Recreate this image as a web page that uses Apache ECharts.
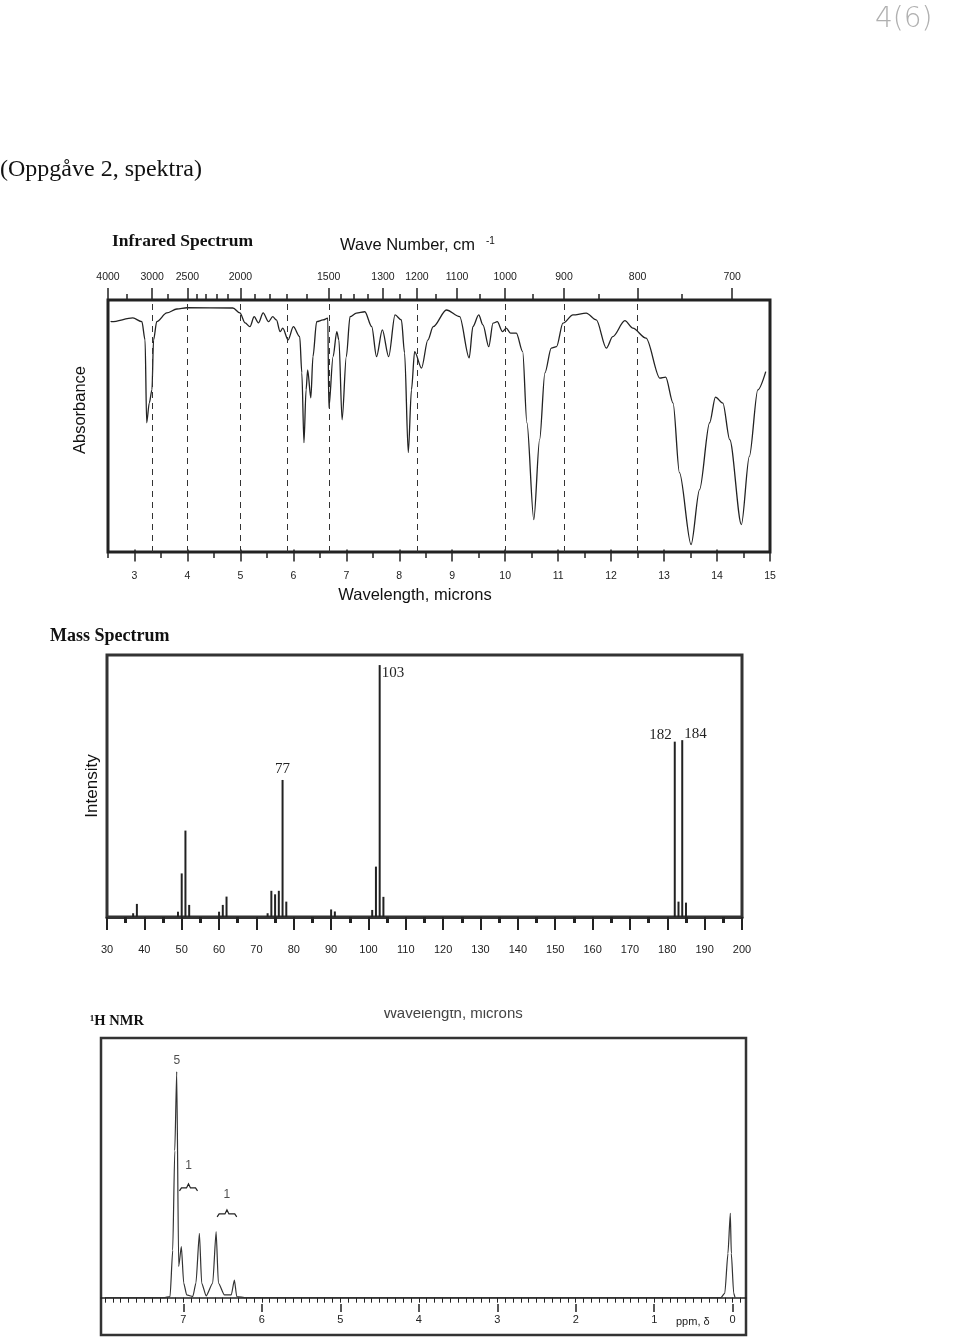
<!DOCTYPE html>
<html><head><meta charset="utf-8">
<script src="https://cdn.jsdelivr.net/npm/echarts@6/dist/echarts.min.js"></script>
<style>html,body{margin:0;padding:0;background:#fff}#c{width:960px;height:1339px}</style>
</head><body><div id="c"></div>
<script>
// ---------- IR spectrum (x: wavelength in microns, y: % transmittance-like trace) ----------
const irMicrons = [2.55,2.57,2.97,3.14,3.20,3.23,3.28,3.33,3.36,3.42,3.61,3.80,3.99,4.86,4.99,5.09,5.18,5.26,5.34,5.43,5.53,5.61,5.68,5.75,5.80,5.90,6.00,6.12,6.16,6.20,6.24,6.27,6.33,6.37,6.44,6.56,6.65,6.67,6.75,6.82,6.86,6.92,7.00,7.07,7.19,7.35,7.48,7.57,7.68,7.80,7.92,8.04,8.10,8.17,8.23,8.29,8.42,8.54,8.64,8.89,9.14,9.32,9.39,9.50,9.58,9.69,9.77,9.85,9.95,10.02,10.10,10.21,10.33,10.41,10.54,10.65,10.75,10.87,10.97,11.09,11.28,11.53,11.72,11.91,12.03,12.26,12.41,12.66,12.92,13.03,13.17,13.29,13.51,13.67,13.86,13.97,14.11,14.24,14.46,14.61,14.77,14.92];
const irTrans   = [91.5,91.3,92.8,91.3,84,50.8,58.8,64,84,91.3,94.8,96.4,96.9,96.8,94.8,90.8,89.3,93.3,90.8,94.8,91.3,93.3,92,87.3,88.7,84,89.3,85.3,70.8,42.8,64,72,60.8,77.3,91.3,92,92.7,56.8,77.3,87.3,84,52,77.3,93.3,94.7,95.3,89.3,77.3,88,77.3,94,92,78.8,38.8,64,79.3,72.7,84,89.3,96,93.3,76.8,89.3,94,90,81.3,90.7,91.3,87.3,88.7,86.7,86.7,79.3,50.8,12,44,70.8,80.7,81.3,90.7,94,94.7,92,80.7,85.3,91.7,88.7,84.7,68.7,69.1,58.7,30.8,2,24,50.8,61.1,58.7,44,10,37.3,64,71.3];
const irWaveMajor = [4000,3000,2500,2000,1500,1300,1200,1100,1000,900,800,700];
const irWaveMinor = [3500,2750,2400,2300,2200,2100,1900,1800,1700,1600,1450,1400,1350,1250,1150,1050,950,850,750];
const irMicronMajor = [3,4,5,6,7,8,9,10,11,12,13,14,15];
const irMicronMinor = [2.5,3.5,4.5,5.5,6.5,7.5,8.5,9.5,10.5,11.5,12.5,13.5,14.5];
const irDashedWave = [3000,2500,2000,1700,1500,1200,1000,900,800];

// ---------- Mass spectrum ----------
const msMz  = [37,38,49,50,51,52,60,61,62,73,74,75,76,77,78,90,91,101,102,103,104,182,183,184,185];
const msInt = [1.5,5.2,2.1,17.3,34.3,4.8,2.1,4.8,8.1,1.5,10.4,9,10.4,54.4,6.1,3,2.2,2.8,20,100,8,69.6,6.1,70.2,5.7];
const msLabelled = {103:'103', 77:'77', 182:'182', 184:'184'};

// ---------- 1H NMR ----------
const nmrPpm = [8.0,7.25,7.17,7.136,7.11,7.085,7.06,7.026,6.996,6.958,6.88,6.84,6.796,6.767,6.71,6.626,6.583,6.554,6.477,6.39,6.35,6.32,6.2,0.15,0.10,0.06,0.03,0.017,-0.013,-0.03];
const nmrInt = [0,0,0.5,21,65,100,13.8,22.6,6.5,1.2,0.5,6.5,28.5,6.5,0.8,6.5,29.2,6.5,1.2,1.2,7.8,0.5,0,0,2,19.6,37.3,19.6,2,0];
const nmrLabels = [[7.085,100,'5'],[6.935,53.6,'1'],[6.445,41,'1']];
const nmrBraces = [[7.05,6.82,49],[6.57,6.32,37.5]];
const nmrMajorTicks = [0,1,2,3,4,5,6,7];

const ink = '#222';
const sans = 'Liberation Sans';
const serif = 'Liberation Serif';
const nmrMinorTicks = [];
for (let i = -1; i <= 80; i++) nmrMinorTicks.push(i / 10);

const chart = echarts.init(document.getElementById('c'));

const irPts = irMicrons.map((m, i) => [m, irTrans[i]]);
const msPts = msMz.map((m, i) => {
  const item = { value: [m, msInt[i]] };
  if (msLabelled[m]) {
    const cfg = { show: true, formatter: msLabelled[m], fontFamily: serif, fontSize: 15, color: ink };
    if (m === 103) Object.assign(cfg, { position: [0, 0], align: 'left', verticalAlign: 'top', offset: [3, 0] });
    if (m === 77) Object.assign(cfg, { position: 'top', distance: 3 });
    if (m === 182) Object.assign(cfg, { position: [0, 0], align: 'right', verticalAlign: 'bottom', offset: [-2, 1] });
    if (m === 184) Object.assign(cfg, { position: [0, 0], align: 'left', verticalAlign: 'bottom', offset: [3, 1] });
    item.label = cfg;
  }
  return item;
});
const nmrPts = nmrPpm.map((p, i) => [p, nmrInt[i]]);

const baseAxis = { axisLine: { show: false }, axisTick: { show: false }, axisLabel: { show: false }, splitLine: { show: false } };
const lbl = (size, margin) => ({ fontFamily: sans, fontSize: size, color: ink, margin });

const option = {
  animation: false,
  backgroundColor: '#fff',
  grid: [
    { left: 108, top: 300, width: 662, height: 252, show: true, borderColor: ink, borderWidth: 3, backgroundColor: 'transparent' },
    { left: 107, top: 655, width: 635, height: 262, show: true, borderColor: '#333', borderWidth: 3, backgroundColor: 'transparent' },
    { left: 101, top: 1038, width: 645, height: 266, show: false }
  ],
  xAxis: [
    { gridIndex: 0, type: 'value', position: 'bottom', min: 2.5, max: 15, splitLine: { show: false },
      axisLine: { show: false },
      axisTick: { show: true, customValues: irMicronMajor, length: 12, lineStyle: { color: ink, width: 1.5 } },
      axisLabel: Object.assign({ customValues: irMicronMajor }, lbl(10.5, 19)) },
    Object.assign({}, baseAxis, { gridIndex: 0, type: 'value', position: 'bottom', min: 2.5, max: 15,
      axisTick: { show: true, customValues: irMicronMinor, length: 6, lineStyle: { color: ink, width: 1.5 } } }),
    { gridIndex: 0, type: 'value', position: 'top', min: 2.5, max: 15, splitLine: { show: false },
      axisLine: { show: false },
      axisTick: { show: true, customValues: irWaveMajor.map(w => 10000 / w), length: 12, lineStyle: { color: ink, width: 1.5 } },
      axisLabel: Object.assign({ customValues: irWaveMajor.map(w => 10000 / w), formatter: v => String(Math.round(10000 / v)) }, lbl(10.5, 17)) },
    Object.assign({}, baseAxis, { gridIndex: 0, type: 'value', position: 'top', min: 2.5, max: 15,
      axisTick: { show: true, customValues: irWaveMinor.map(w => 10000 / w), length: 6, lineStyle: { color: ink, width: 1.5 } } }),
    { gridIndex: 1, type: 'value', position: 'bottom', min: 30, max: 200, interval: 10, splitLine: { show: false },
      axisLine: { lineStyle: { color: '#333', width: 3 } },
      axisTick: { length: 13, lineStyle: { color: ink, width: 2 } },
      minorTick: { show: true, splitNumber: 2, length: 6, lineStyle: { color: ink, width: 3 } },
      axisLabel: lbl(11, 27) },
    { gridIndex: 2, type: 'value', position: 'bottom', min: -0.17, max: 8.05, inverse: true, splitLine: { show: false },
      axisLine: { lineStyle: { color: ink, width: 1.5 } },
      axisTick: { customValues: nmrMinorTicks, length: 5, lineStyle: { color: ink, width: 1 } },
      axisLabel: Object.assign({ customValues: nmrMajorTicks }, lbl(11, 10)) },
    Object.assign({}, baseAxis, { gridIndex: 2, type: 'value', position: 'bottom', min: -0.17, max: 8.05, inverse: true,
      axisTick: { show: true, customValues: nmrMajorTicks, length: 8, lineStyle: { color: ink, width: 1.5 } } })
  ],
  yAxis: [
    Object.assign({}, baseAxis, { gridIndex: 0, type: 'value', min: -1, max: 100 }),
    Object.assign({}, baseAxis, { gridIndex: 1, type: 'value', min: 0, max: 104 }),
    Object.assign({}, baseAxis, { gridIndex: 2, type: 'value', min: -2.8, max: 114.9 })
  ],
  series: [
    { type: 'line', xAxisIndex: 0, yAxisIndex: 0, data: irPts, smooth: 0.3, smoothMonotone: 'x', symbol: 'none',
      lineStyle: { color: ink, width: 1.3 },
      markLine: { silent: true, symbol: 'none', label: { show: false },
        lineStyle: { color: '#333', width: 1, type: [6, 5] },
        data: irDashedWave.map(w => ({ xAxis: 10000 / w })) } },
    { type: 'bar', xAxisIndex: 4, yAxisIndex: 1, data: msPts, barWidth: 2, itemStyle: { color: ink } },
    { type: 'line', xAxisIndex: 5, yAxisIndex: 2, data: nmrPts, smooth: 0.2, smoothMonotone: 'x', symbol: 'none',
      lineStyle: { color: '#333', width: 1.2 } },
    { type: 'scatter', xAxisIndex: 5, yAxisIndex: 2, symbolSize: 1, itemStyle: { color: 'rgba(0,0,0,0)' },
      data: nmrLabels.map(l => ({ value: [l[0], l[1]], label: { show: true, formatter: l[2], position: 'top', distance: 4,
        fontFamily: sans, fontSize: 12, color: ink } })) },
    { type: 'custom', xAxisIndex: 5, yAxisIndex: 2, data: nmrBraces, encode: { x: [0, 1], y: 2 },
      renderItem: (params, api) => {
        const p1 = api.coord([api.value(0), api.value(2)]);
        const p2 = api.coord([api.value(1), api.value(2)]);
        const x1 = p1[0], x2 = p2[0], y = p1[1], m = (x1 + x2) / 2;
        return { type: 'polyline', shape: { points: [[x1, y + 4], [x1 + 2, y + 1], [m - 2, y + 1], [m, y - 3], [m + 2, y + 1], [x2 - 2, y + 1], [x2, y + 4]] },
          style: { fill: 'none', stroke: ink, lineWidth: 1.2 } };
      } }
  ],
  graphic: [
    { type: 'text', left: 875, top: 6, style: { text: '4(6)', font: '300 28px "DejaVu Sans"', fill: '#b0b0b0' } },
    { type: 'text', left: 0, top: 158, style: { text: '(Oppgåve 2, spektra)', font: '24px "Liberation Serif"', fill: '#111' } },
    { type: 'text', left: 112, top: 232, style: { text: 'Infrared Spectrum', font: 'bold 17.5px "Liberation Serif"', fill: '#111' } },
    { type: 'text', left: 340, top: 237, style: { text: 'Wave Number, cm', font: '16.5px "Liberation Sans"', fill: '#111' } },
    { type: 'text', left: 486, top: 236, style: { text: '-1', font: '10px "Liberation Sans"', fill: '#111' } },
    { type: 'text', x: 80, y: 410, rotation: Math.PI / 2, style: { text: 'Absorbance', font: '16.5px "Liberation Sans"', fill: '#111', align: 'center', verticalAlign: 'middle' } },
    { type: 'text', x: 415, y: 595, style: { text: 'Wavelength, microns', font: '16.5px "Liberation Sans"', fill: '#111', align: 'center', verticalAlign: 'middle' } },
    { type: 'text', left: 50, top: 627, style: { text: 'Mass Spectrum', font: 'bold 18px "Liberation Serif"', fill: '#111' } },
    { type: 'text', x: 92, y: 786, rotation: Math.PI / 2, style: { text: 'Intensity', font: '17px "Liberation Sans"', fill: '#111', align: 'center', verticalAlign: 'middle' } },
    { type: 'text', left: 90, top: 1014, style: { text: '¹H NMR', font: 'bold 14.5px "Liberation Serif"', fill: '#111' } },
    { type: 'text', x: 453, y: 1014, style: { text: 'Wavelength, microns', font: '15px "Liberation Sans"', fill: '#444', align: 'center', verticalAlign: 'middle' } },
    { type: 'rect', shape: { x: 380, y: 995, width: 150, height: 15 }, style: { fill: '#fff' } },
    { type: 'rect', shape: { x: 101, y: 1038, width: 645, height: 297 }, style: { fill: 'none', stroke: '#333', lineWidth: 2.5 } },
    { type: 'text', left: 676, top: 1316, style: { text: 'ppm, δ', font: '11px "Liberation Sans"', fill: ink } }
  ]
};
chart.setOption(option);
</script>
</body></html>
